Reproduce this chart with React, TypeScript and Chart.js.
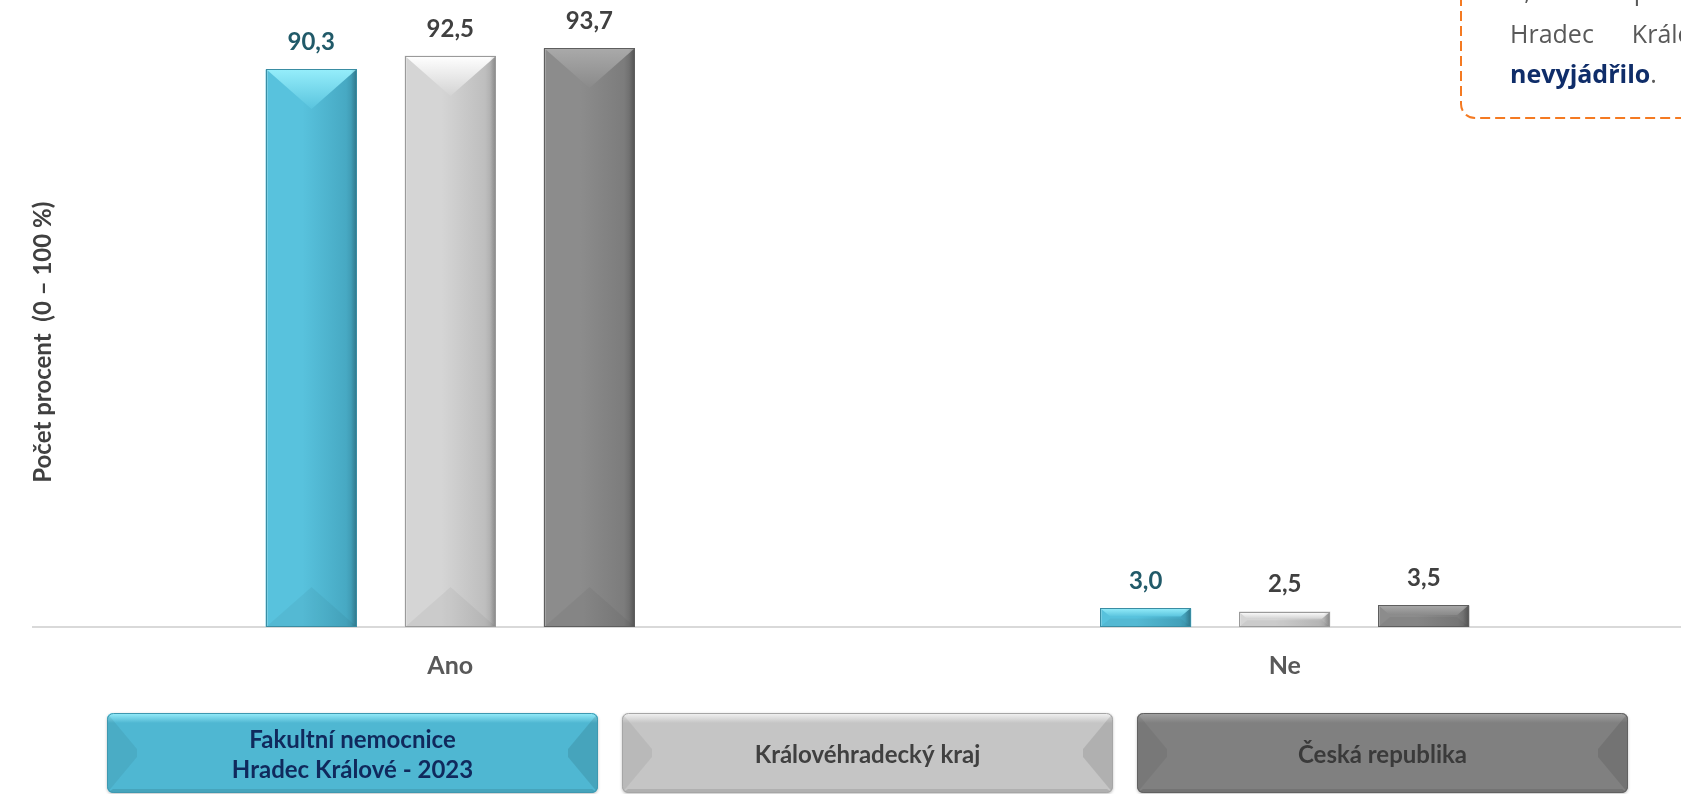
import React, { useEffect, useRef } from "react";
import { Chart, registerables } from "chart.js";

Chart.register(...registerables);

const categories = ["Ano", "Ne"];
const seriesNames = ["Fakultní nemocnice\nHradec Králové - 2023", "Královéhradecký kraj", "Česká republika"];
const fnhkValues = [90.3, 3.0];
const krajValues = [92.5, 2.5];
const crValues = [93.7, 3.5];
const yAxisTitle = "Počet procent  (0 – 100 %)";
const noteLine1 = ["6,7", "%", "pacientů", "Fakultní", "nemocnice"];
const noteLine2 = ["Hradec", "Králové", "se", "k", "otázce"];
const noteBold = "nevyjádřilo";

const barPalettes = [
  { left: "#58C2DD", right: "#47A9C3", edge: "#3A8FA6", topA: "#96EEFB", topB: "#5AC4DE", border: "#3A8DA3", label: "#215A69" },
  { left: "#D5D5D5", right: "#BEBEBE", edge: "#A3A3A3", topA: "#FFFFFF", topB: "#D3D3D3", border: "#9A9A9A", label: "#404040" },
  { left: "#8C8C8C", right: "#7C7C7C", edge: "#646464", topA: "#AAAAAA", topB: "#8A8A8A", border: "#5E5E5E", label: "#404040" },
];

const legendPalettes = [
  { body: "#4FB7D2", top: "#98EEFB", border: "#3E98B0", text: "#10295C" },
  { body: "#C5C5C5", top: "#F4F4F4", border: "#A6A6A6", text: "#404040" },
  { body: "#808080", top: "#A3A3A3", border: "#616161", text: "#3A3A3A" },
];

function poly(ctx: CanvasRenderingContext2D, pts: number[][], fill: string | CanvasGradient) {
  ctx.beginPath();
  ctx.moveTo(pts[0][0], pts[0][1]);
  for (let i = 1; i < pts.length; i++) ctx.lineTo(pts[i][0], pts[i][1]);
  ctx.closePath();
  ctx.fillStyle = fill;
  ctx.fill();
}

function drawBevelBar(ctx: CanvasRenderingContext2D, x0: number, y0: number, x1: number, y1: number, p: any) {
  const w = x1 - x0;
  const h = y1 - y0;
  if (h <= 0) return;
  const sy = Math.min(40, h * 0.45);
  const sx = Math.min(w / 2, sy * 1.2);
  const g = ctx.createLinearGradient(x0, 0, x1, 0);
  g.addColorStop(0, p.left);
  g.addColorStop(0.4, p.left);
  g.addColorStop(0.88, p.right);
  g.addColorStop(1, p.edge);
  ctx.fillStyle = g;
  ctx.fillRect(x0, y0, w, h);
  const gt = ctx.createLinearGradient(0, y0, 0, y0 + sy);
  gt.addColorStop(0, p.topA);
  gt.addColorStop(1, p.topB);
  poly(ctx, [[x0, y0], [x1, y0], [x1 - sx, y0 + sy], [x0 + sx, y0 + sy]], gt);
  poly(ctx, [[x0, y1], [x1, y1], [x1 - sx, y1 - sy], [x0 + sx, y1 - sy]], "rgba(0,0,0,0.045)");
  const ge = ctx.createLinearGradient(x1 - 6, 0, x1, 0);
  ge.addColorStop(0, "rgba(0,0,0,0)");
  ge.addColorStop(1, "rgba(0,0,0,0.18)");
  ctx.fillStyle = ge;
  ctx.fillRect(x1 - 6, y0, 6, h);
  ctx.fillStyle = "rgba(255,255,255,0.2)";
  ctx.fillRect(x0, y0, 2, h);
  ctx.strokeStyle = p.border;
  ctx.lineWidth = 1;
  ctx.strokeRect(x0 + 0.5, y0 + 0.5, w - 1, h - 1);
}

function roundRectPath(ctx: CanvasRenderingContext2D, x: number, y: number, w: number, h: number, r: number) {
  ctx.beginPath();
  ctx.moveTo(x + r, y);
  ctx.lineTo(x + w - r, y);
  ctx.arcTo(x + w, y, x + w, y + r, r);
  ctx.lineTo(x + w, y + h - r);
  ctx.arcTo(x + w, y + h, x + w - r, y + h, r);
  ctx.lineTo(x + r, y + h);
  ctx.arcTo(x, y + h, x, y + h - r, r);
  ctx.lineTo(x, y + r);
  ctx.arcTo(x, y, x + r, y, r);
  ctx.closePath();
}

function drawLegendBox(ctx: CanvasRenderingContext2D, x0: number, y0: number, w: number, h: number, p: any, label: string) {
  const x1 = x0 + w;
  const y1 = y0 + h;
  ctx.save();
  ctx.shadowColor = "rgba(0,0,0,0.25)";
  ctx.shadowBlur = 3;
  ctx.shadowOffsetY = 1;
  roundRectPath(ctx, x0, y0, w, h, 6);
  ctx.fillStyle = p.body;
  ctx.fill();
  ctx.restore();
  ctx.save();
  roundRectPath(ctx, x0, y0, w, h, 6);
  ctx.clip();
  const gt = ctx.createLinearGradient(0, y0, 0, y0 + 10);
  gt.addColorStop(0, p.top);
  gt.addColorStop(1, p.body);
  ctx.fillStyle = gt;
  ctx.fillRect(x0, y0, w, 10);
  const sx = 30;
  poly(ctx, [[x0, y0], [x0 + sx, y0 + h * 0.45], [x0 + sx, y0 + h * 0.55], [x0, y1]], "rgba(0,0,0,0.06)");
  poly(ctx, [[x1, y0], [x1 - sx, y0 + h * 0.45], [x1 - sx, y0 + h * 0.55], [x1, y1]], "rgba(0,0,0,0.1)");
  poly(ctx, [[x0, y1], [x1, y1], [x1 - 6, y1 - 4], [x0 + 6, y1 - 4]], "rgba(0,0,0,0.1)");
  ctx.restore();
  roundRectPath(ctx, x0 + 0.5, y0 + 0.5, w - 1, h - 1, 6);
  ctx.strokeStyle = p.border;
  ctx.lineWidth = 1;
  ctx.stroke();
  const lines = label.split("\n");
  ctx.font = "bold 24px Lato";
  ctx.fillStyle = p.text;
  ctx.textAlign = "center";
  ctx.textBaseline = "middle";
  const lh = 30;
  const cy = y0 + h / 2 + 2;
  lines.forEach((ln, i) => {
    ctx.fillText(ln, x0 + w / 2, cy + (i - (lines.length - 1) / 2) * lh);
  });
}

const decorPlugin = {
  id: "decor",
  afterDatasetsDraw(chart: any) {
    const ctx: CanvasRenderingContext2D = chart.ctx;
    ctx.save();
    chart.data.datasets.forEach((ds: any, di: number) => {
      const meta = chart.getDatasetMeta(di);
      const p = barPalettes[di];
      meta.data.forEach((bar: any, i: number) => {
        const { x, y, base, width } = bar.getProps(["x", "y", "base", "width"], true);
        const x0 = Math.round(x - width / 2);
        const x1 = Math.round(x + width / 2);
        drawBevelBar(ctx, x0, Math.round(y), x1, Math.round(base), p);
        const v = ds.data[i] as number;
        ctx.font = "bold 24px Lato";
        ctx.fillStyle = p.label;
        ctx.textAlign = "center";
        ctx.textBaseline = "middle";
        ctx.fillText(v.toFixed(1).replace(".", ","), x, y - 27);
      });
    });
    ctx.restore();
  },
  afterDraw(chart: any) {
    const ctx: CanvasRenderingContext2D = chart.ctx;
    ctx.save();
    // y axis title
    ctx.translate(43, (chart.chartArea.top + chart.chartArea.bottom) / 2 + 24);
    ctx.rotate(-Math.PI / 2);
    ctx.font = "bold 24px Lato";
    ctx.fillStyle = "#404040";
    ctx.textAlign = "center";
    ctx.textBaseline = "middle";
    ctx.fillText(yAxisTitle, 0, 0);
    ctx.restore();

    // legend
    ctx.save();
    const lw = 491;
    const gap = 24;
    const lx = 107;
    chart.data.datasets.forEach((ds: any, di: number) => {
      drawLegendBox(ctx, lx + di * (lw + gap), 713, lw, 80, legendPalettes[di], ds.label);
    });
    ctx.restore();

    // annotation box (partially visible)
    ctx.save();
    ctx.strokeStyle = "#F47A22";
    ctx.lineWidth = 2;
    ctx.setLineDash([10, 5]);
    ctx.beginPath();
    ctx.moveTo(1461, -4);
    ctx.lineTo(1461, 104);
    ctx.arcTo(1461, 118, 1475, 118, 14);
    ctx.lineTo(1720, 118);
    ctx.stroke();
    ctx.setLineDash([]);
    ctx.font = "25px 'Open Sans'";
    ctx.fillStyle = "#595959";
    ctx.textAlign = "left";
    ctx.textBaseline = "alphabetic";
    let xx = 1510;
    noteLine1.forEach((wd) => {
      ctx.fillText(wd, xx, 0);
      xx += ctx.measureText(wd).width + 34;
    });
    xx = 1510;
    noteLine2.forEach((wd) => {
      ctx.fillText(wd, xx, 43);
      xx += ctx.measureText(wd).width + 38;
    });
    ctx.font = "bold 25px 'Open Sans'";
    ctx.fillStyle = "#0F2D69";
    ctx.fillText(noteBold, 1510, 83);
    const bw = ctx.measureText(noteBold).width;
    ctx.font = "25px 'Open Sans'";
    ctx.fillStyle = "#595959";
    ctx.fillText(".", 1510 + bw, 83);
    ctx.restore();
  },
};

export default function App() {
  const ref = useRef<HTMLCanvasElement>(null);
  useEffect(() => {
    const canvas = ref.current;
    if (!canvas) return;
    const values = [fnhkValues, krajValues, crValues];
    const chart = new Chart(canvas, {
      type: "bar",
      data: {
        labels: categories,
        datasets: values.map((vals, i) => ({
          label: seriesNames[i],
          data: vals,
          backgroundColor: barPalettes[i].left,
          borderWidth: 0,
          categoryPercentage: 0.5,
          barPercentage: 0.655,
        })),
      },
      options: {
        responsive: false,
        maintainAspectRatio: false,
        devicePixelRatio: 1,
        animation: false,
        events: [],
        layout: { padding: { left: 33, right: 18, top: 9.5, bottom: 0 } },
        plugins: {
          legend: { display: false },
          tooltip: { enabled: false },
          title: { display: false },
        },
        scales: {
          y: { display: false, min: 0, max: 100 },
          x: {
            grid: { display: false, drawTicks: false },
            border: { display: true, color: "#D9D9D9", width: 2 },
            ticks: {
              color: "#595959",
              font: { family: "Lato", size: 25, weight: "bold" },
              padding: 24,
            },
            afterFit: (scale: any) => {
              scale.height = 167;
            },
          },
        },
      },
      plugins: [decorPlugin],
    } as any);
    return () => chart.destroy();
  }, []);
  return (
    <div style={{ position: "fixed", left: 0, top: 0, width: 1681, height: 794, overflow: "hidden", background: "#ffffff" }}>
      <canvas ref={ref} width={1720} height={794} style={{ display: "block", width: 1720, height: 794 }} />
    </div>
  );
}
